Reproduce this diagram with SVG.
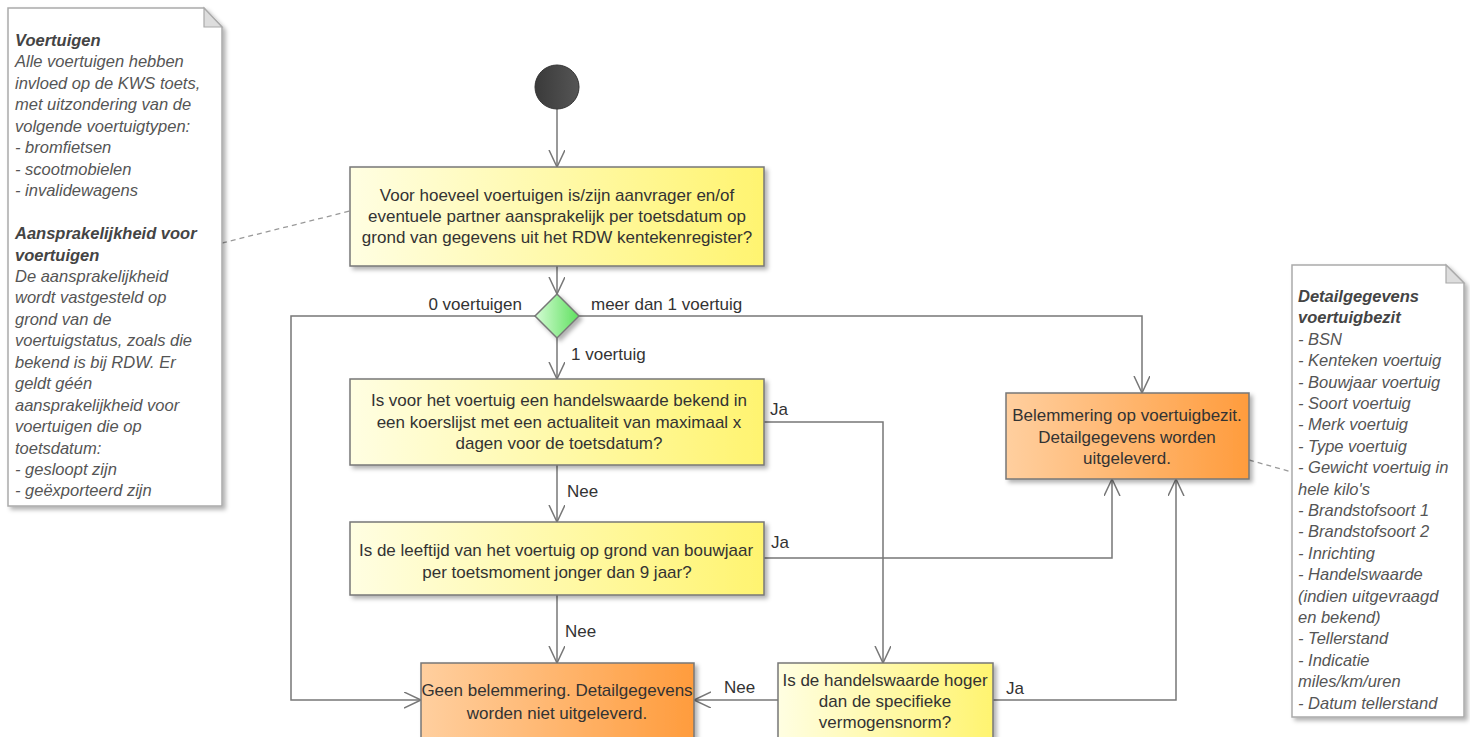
<svg xmlns="http://www.w3.org/2000/svg" width="1470" height="737" viewBox="0 0 1470 737">
<defs>
<linearGradient id="gy" x1="0" y1="0" x2="1" y2="0"><stop offset="0" stop-color="#fffee2"/><stop offset="1" stop-color="#fff470"/></linearGradient>
<linearGradient id="go" x1="0" y1="0" x2="1" y2="0"><stop offset="0" stop-color="#ffcf9f"/><stop offset="1" stop-color="#ff9c3d"/></linearGradient>
<linearGradient id="gg" x1="0" y1="0" x2="1" y2="0"><stop offset="0" stop-color="#d4fcd4"/><stop offset="1" stop-color="#5fe05f"/></linearGradient>
<linearGradient id="gs" x1="0" y1="0" x2="1" y2="0"><stop offset="0" stop-color="#3a3a3a"/><stop offset="1" stop-color="#555"/></linearGradient>
<filter id="sh" x="-10%" y="-10%" width="130%" height="130%"><feDropShadow dx="3" dy="3" stdDeviation="2" flood-color="#000" flood-opacity="0.3"/></filter>
<marker id="ar" markerWidth="20" markerHeight="20" refX="17" refY="8" orient="auto" markerUnits="userSpaceOnUse"><path d="M0,0 L17,8 L0,16" fill="none" stroke="#777" stroke-width="1.5"/></marker>
<style>
.box{stroke:#777;stroke-width:1.5;filter:url(#sh)}
.t{font-family:"Liberation Sans",Arial,sans-serif;font-size:17px;fill:#333;text-anchor:middle}
.lb{font-family:"Liberation Sans",Arial,sans-serif;font-size:17px;fill:#333}
.c{fill:none;stroke:#777;stroke-width:1.5}
.na{fill:none;stroke:#777;stroke-width:1.5;marker-end:url(#ar)}
.dash{fill:none;stroke:#999;stroke-width:1.3;stroke-dasharray:5,4}
.note{fill:#fff;stroke:#aaa;stroke-width:1.5;filter:url(#sh)}
.nt{font-family:"Liberation Sans",Arial,sans-serif;font-size:16.5px;font-style:italic;fill:#555}
.nb{font-weight:bold;fill:#444}
</style>
</defs>
<rect width="1470" height="737" fill="#fff"/>

<g id="connectors">
<line class="na" x1="557" y1="109" x2="557" y2="167"/>
<line class="na" x1="557" y1="266" x2="557" y2="294"/>
<polyline class="na" points="535,316 291,316 291,700 421,700"/>
<polyline class="na" points="579,316 1142,316 1142,393"/>
<line class="na" x1="557" y1="338" x2="557" y2="379"/>
<polyline class="na" points="764,422 883,422 883,663"/>
<line class="na" x1="557" y1="465" x2="557" y2="522"/>
<polyline class="na" points="764,558 1112,558 1112,479"/>
<line class="na" x1="557" y1="595" x2="557" y2="663"/>
<line class="na" x1="778" y1="700" x2="694" y2="700"/>
<polyline class="na" points="993,700 1176,700 1176,479"/>
<line class="dash" x1="222" y1="243" x2="350" y2="211"/>
<line class="dash" x1="1249" y1="460" x2="1292" y2="472"/>
<text class="lb" x="522" y="310" text-anchor="end">0 voertuigen</text>
<text class="lb" x="591" y="310">meer dan 1 voertuig</text>
<text class="lb" x="571" y="360">1 voertuig</text>
<text class="lb" x="770" y="415">Ja</text>
<text class="lb" x="567" y="497">Nee</text>
<text class="lb" x="771" y="548">Ja</text>
<text class="lb" x="565" y="637">Nee</text>
<text class="lb" x="724" y="693">Nee</text>
<text class="lb" x="1006" y="694">Ja</text>
</g>

<g id="start"><circle cx="557" cy="87" r="22" fill="url(#gs)" stroke="#333" stroke-width="1"/></g>

<g id="q1">
<rect class="box" x="350" y="167" width="414" height="99" fill="url(#gy)"/>
<text class="t" x="557" y="201">Voor hoeveel voertuigen is/zijn aanvrager en/of</text>
<text class="t" x="557" y="222">eventuele partner aansprakelijk per toetsdatum op</text>
<text class="t" x="557" y="243">grond van gegevens uit het RDW kentekenregister?</text>
</g>

<g id="d1"><polygon points="557,294 579,316 557,338 535,316" fill="url(#gg)" stroke="#777" stroke-width="1.5" filter="url(#sh)"/></g>

<g id="q2">
<rect class="box" x="350" y="379" width="414" height="86" fill="url(#gy)"/>
<text class="t" x="559" y="406">Is voor het voertuig een handelswaarde bekend in</text>
<text class="t" x="559" y="428">een koerslijst met een actualiteit van maximaal x</text>
<text class="t" x="559" y="449">dagen voor de toetsdatum?</text>
</g>

<g id="q3">
<rect class="box" x="350" y="522" width="414" height="73" fill="url(#gy)"/>
<text class="t" x="556" y="556">Is de leeftijd van het voertuig op grond van bouwjaar</text>
<text class="t" x="557" y="578">per toetsmoment jonger dan 9 jaar?</text>
</g>

<g id="bel">
<rect class="box" x="1006" y="393" width="243" height="86" fill="url(#go)"/>
<text class="t" x="1127" y="421">Belemmering op voertuigbezit.</text>
<text class="t" x="1127" y="443">Detailgegevens worden</text>
<text class="t" x="1127" y="464">uitgeleverd.</text>
</g>

<g id="geen">
<rect class="box" x="421" y="663" width="273" height="90" fill="url(#go)"/>
<text class="t" x="557" y="696">Geen belemmering. Detailgegevens</text>
<text class="t" x="557" y="719">worden niet uitgeleverd.</text>
</g>

<g id="q4">
<rect class="box" x="778" y="663" width="215" height="90" fill="url(#gy)"/>
<text class="t" x="885" y="686">Is de handelswaarde hoger</text>
<text class="t" x="885" y="707">dan de specifieke</text>
<text class="t" x="885" y="728">vermogensnorm?</text>
</g>

<g id="note1">
<path class="note" d="M8,8 L204,8 L222,27 L222,506 L8,506 Z"/>
<path d="M204,8 L204,27 L222,27 Z" fill="#ddd" stroke="#aaa" stroke-width="1.2"/>
<text class="nt" x="15" y="46"><tspan class="nb">Voertuigen</tspan><tspan x="15" dy="21.45">Alle voertuigen hebben</tspan><tspan x="15" dy="21.45">invloed op de KWS toets,</tspan><tspan x="15" dy="21.45">met uitzondering van de</tspan><tspan x="15" dy="21.45">volgende voertuigtypen:</tspan><tspan x="15" dy="21.45">- bromfietsen</tspan><tspan x="15" dy="21.45">- scootmobielen</tspan><tspan x="15" dy="21.45">- invalidewagens</tspan><tspan x="15" dy="42.9" class="nb">Aansprakelijkheid voor</tspan><tspan x="15" dy="21.45" class="nb">voertuigen</tspan><tspan x="15" dy="21.45">De aansprakelijkheid</tspan><tspan x="15" dy="21.45">wordt vastgesteld op</tspan><tspan x="15" dy="21.45">grond van de</tspan><tspan x="15" dy="21.45">voertuigstatus, zoals die</tspan><tspan x="15" dy="21.45">bekend is bij RDW. Er</tspan><tspan x="15" dy="21.45">geldt géén</tspan><tspan x="15" dy="21.45">aansprakelijkheid voor</tspan><tspan x="15" dy="21.45">voertuigen die op</tspan><tspan x="15" dy="21.45">toetsdatum:</tspan><tspan x="15" dy="21.45">- gesloopt zijn</tspan><tspan x="15" dy="21.45">- geëxporteerd zijn</tspan></text>
</g>

<g id="note2">
<path class="note" d="M1292,265 L1446,265 L1464,283 L1464,717 L1292,717 Z"/>
<path d="M1446,265 L1446,283 L1464,283 Z" fill="#ddd" stroke="#aaa" stroke-width="1.2"/>
<text class="nt" x="1298" y="302"><tspan class="nb">Detailgegevens</tspan><tspan x="1298" dy="21.4" class="nb">voertuigbezit</tspan><tspan x="1298" dy="21.4">- BSN</tspan><tspan x="1298" dy="21.4">- Kenteken voertuig</tspan><tspan x="1298" dy="21.4">- Bouwjaar voertuig</tspan><tspan x="1298" dy="21.4">- Soort voertuig</tspan><tspan x="1298" dy="21.4">- Merk voertuig</tspan><tspan x="1298" dy="21.4">- Type voertuig</tspan><tspan x="1298" dy="21.4">- Gewicht voertuig in</tspan><tspan x="1298" dy="21.4">hele kilo's</tspan><tspan x="1298" dy="21.4">- Brandstofsoort 1</tspan><tspan x="1298" dy="21.4">- Brandstofsoort 2</tspan><tspan x="1298" dy="21.4">- Inrichting</tspan><tspan x="1298" dy="21.4">- Handelswaarde</tspan><tspan x="1298" dy="21.4">(indien uitgevraagd</tspan><tspan x="1298" dy="21.4">en bekend)</tspan><tspan x="1298" dy="21.4">- Tellerstand</tspan><tspan x="1298" dy="21.4">- Indicatie</tspan><tspan x="1298" dy="21.4">miles/km/uren</tspan><tspan x="1298" dy="21.4">- Datum tellerstand</tspan></text>
</g>
</svg>
